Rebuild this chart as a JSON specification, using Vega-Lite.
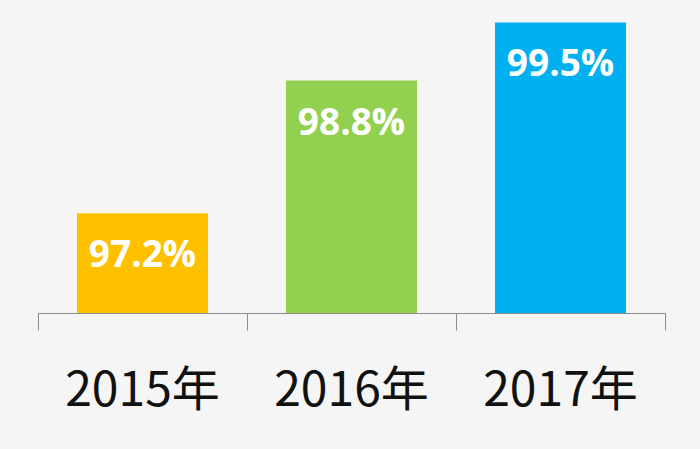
{
  "$schema": "https://vega.github.io/schema/vega-lite/v6.json",
  "autosize": "none",
  "padding": {"left": 38, "top": 0, "right": 35, "bottom": 136},
  "width": 627,
  "height": 313,
  "background": "#f5f5f5",
  "config": {"view": {"stroke": null}},
  "data": {"values": [
    {"year": "2015年", "rate": 97.2, "label": "97.2%"},
    {"year": "2016年", "rate": 98.8, "label": "98.8%"},
    {"year": "2017年", "rate": 99.5, "label": "99.5%"}
  ]},
  "encoding": {
    "x": {"field": "year", "type": "nominal", "sort": null,
      "scale": {"paddingInner": 0, "paddingOuter": 0},
      "axis": {"title": null, "labelAngle": 0, "bandPosition": 1, "tickExtra": true,
        "tickSize": 17, "tickColor": "#8c8c8c", "domainColor": "#8c8c8c", "tickWidth": 1, "domainWidth": 1,
        "labelFont": "Noto Sans CJK SC", "labelFontSize": 48, "labelColor": "#111111",
        "labelBaseline": "alphabetic", "labelPadding": 75, "grid": false}},
    "y": {"field": "rate", "type": "quantitative",
      "scale": {"domain": [96, 99.77], "zero": false, "nice": false, "clamp": true},
      "axis": null}
  },
  "layer": [
    {"mark": {"type": "bar", "width": {"band": 0.627}},
      "encoding": {
        "y2": {"datum": 96},
        "color": {"field": "year", "type": "nominal", "legend": null,
          "scale": {"domain": ["2015年", "2016年", "2017年"], "range": ["#FFC000", "#92D050", "#00B0F0"]}}}},
    {"mark": {"type": "text", "color": "#ffffff", "font": "Open Sans", "fontWeight": "bold", "fontSize": 37, "baseline": "alphabetic", "dy": 54},
      "encoding": {"text": {"field": "label"}}}
  ]
}
